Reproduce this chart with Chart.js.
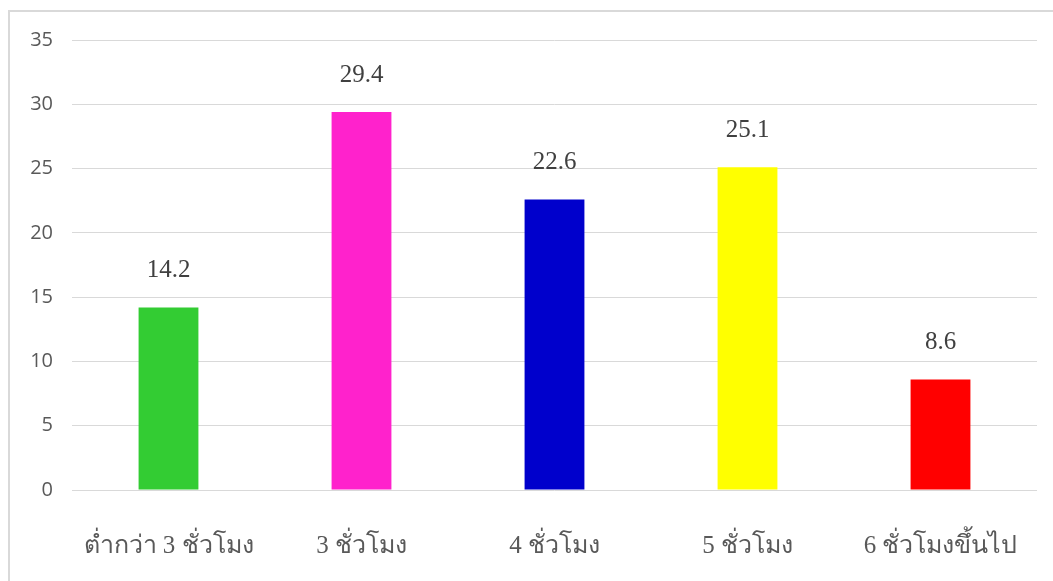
<!DOCTYPE html>
<html>
<head>
<meta charset="utf-8">
<script src="https://cdn.jsdelivr.net/npm/chart.js@4/dist/chart.umd.min.js"></script>
<style>
    body { margin: 0; background: #fff; overflow: hidden; }
    #frame {
        position: absolute; left: 8px; top: 10px;
        width: 1100px; height: 640px;
        border: 2px solid #d9d9d9; box-sizing: border-box;
    }
    #wrap { position: absolute; left: 0; top: 0; width: 1053px; height: 581px; }
</style>
</head>
<body>
<div id="frame"></div>
<div id="wrap"><canvas id="hoursChart"></canvas></div>
<script>
// Chart data
const categories = ['ต่ำกว่า 3 ชั่วโมง', '3 ชั่วโมง', '4 ชั่วโมง', '5 ชั่วโมง', '6 ชั่วโมงขึ้นไป'];
const percentValues = [14.2, 29.4, 22.6, 25.1, 8.6];
const barColors = ['#33cc33', '#ff22cc', '#0000cc', '#ffff00', '#ff0000'];
const yTicks = [0, 5, 10, 15, 20, 25, 30, 35];

// Draw the value above each bar
const valueLabels = {
    id: 'valueLabels',
    afterDatasetsDraw(chart) {
        const ctx = chart.ctx;
        const meta = chart.getDatasetMeta(0);
        ctx.save();
        ctx.font = '25px "Liberation Serif", serif';
        ctx.fillStyle = '#404040';
        ctx.textAlign = 'center';
        ctx.textBaseline = 'middle';
        meta.data.forEach((bar, i) => {
            ctx.fillText(percentValues[i].toFixed(1), bar.x, bar.y - 37);
        });
        ctx.restore();
    }
};

const ctx = document.getElementById('hoursChart').getContext('2d');
new Chart(ctx, {
    type: 'bar',
    data: {
        labels: categories,
        datasets: [{
            data: percentValues,
            backgroundColor: barColors,
            borderWidth: 0,
            categoryPercentage: 1,
            barPercentage: 0.31
        }]
    },
    options: {
        responsive: true,
        maintainAspectRatio: false,
        animation: false,
        layout: { padding: { left: 0, top: 40, right: 16, bottom: 0 } },
        plugins: {
            legend: { display: false },
            tooltip: { enabled: false }
        },
        scales: {
            y: {
                min: 0,
                max: 35,
                afterBuildTicks: axis => { axis.ticks = yTicks.map(v => ({ value: v })); },
                afterFit: axis => { axis.width = 72; },
                border: { display: false },
                grid: { color: '#d9d9d9', lineWidth: 1, drawTicks: false },
                ticks: {
                    padding: 19,
                    color: '#595959',
                    font: { family: '"Open Sans", sans-serif', size: 20 }
                }
            },
            x: {
                afterFit: axis => {
                    axis.height = 91;
                    axis.paddingLeft = 0;
                    axis.paddingRight = 0;
                },
                border: { display: false },
                grid: { display: false, drawTicks: false },
                ticks: {
                    padding: 41,
                    color: '#595959',
                    maxRotation: 0,
                    autoSkip: false,
                    font: { family: '"Liberation Serif", serif', size: 25 }
                }
            }
        }
    },
    plugins: [valueLabels]
});
</script>
</body>
</html>
